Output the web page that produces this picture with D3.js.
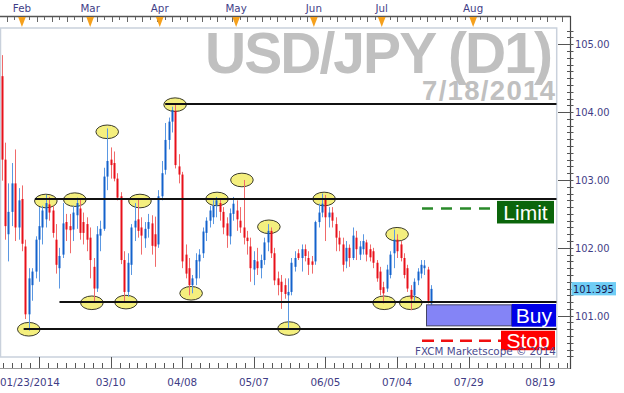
<!DOCTYPE html>
<html><head><meta charset="utf-8">
<script src="https://cdn.jsdelivr.net/npm/d3@7/dist/d3.min.js"></script>
<style>
html,body{margin:0;padding:0;background:#fff;}
svg{display:block;}
</style></head><body>
<svg id="c" width="624" height="393"></svg>
<script>
// ---------- data ----------
const dates = ["01/23","01/24","01/27","01/28","01/29","01/30","01/31","02/03","02/04","02/05","02/06","02/07","02/10","02/11","02/12","02/13","02/14","02/17","02/18","02/19","02/20","02/21","02/24","02/25","02/26","02/27","02/28","03/03","03/04","03/05","03/06","03/07","03/10","03/11","03/12","03/13","03/14","03/17","03/18","03/19","03/20","03/21","03/24","03/25","03/26","03/27","03/28","03/31","04/01","04/02","04/03","04/04","04/07","04/08","04/09","04/10","04/11","04/14","04/15","04/16","04/17","04/18","04/21","04/22","04/23","04/24","04/25","04/28","04/29","04/30","05/01","05/02","05/05","05/06","05/07","05/08","05/09","05/12","05/13","05/14","05/15","05/16","05/19","05/20","05/21","05/22","05/23","05/26","05/27","05/28","05/29","05/30","06/02","06/03","06/04","06/05","06/06","06/09","06/10","06/11","06/12","06/13","06/16","06/17","06/18","06/19","06/20","06/23","06/24","06/25","06/26","06/27","06/30","07/01","07/02","07/03","07/04","07/07","07/08","07/09","07/10","07/11","07/14","07/15","07/16","07/17","07/18"];
const open  = [104.53,103.30,102.20,102.53,102.95,102.30,102.72,102.02,101.02,101.45,101.65,102.12,102.30,102.42,102.64,102.55,102.12,101.70,101.90,102.38,102.32,102.27,102.48,102.58,102.38,102.35,102.15,101.72,101.40,102.18,102.28,103.05,103.30,103.25,103.02,102.76,101.82,101.35,101.75,102.30,102.42,102.30,102.14,102.28,102.36,102.20,102.05,102.76,103.15,103.59,103.86,104.02,103.20,103.08,101.90,101.70,101.45,101.55,101.80,101.92,102.22,102.40,102.45,102.62,102.66,102.53,102.36,102.17,102.50,102.55,102.40,102.30,102.15,102.02,101.68,101.80,101.70,101.82,102.08,102.25,101.92,101.55,101.50,101.45,101.30,101.35,101.72,101.92,101.85,101.98,101.85,101.80,101.80,102.38,102.52,102.72,102.45,102.52,102.35,102.15,102.05,101.80,102.00,101.85,102.15,101.90,101.98,102.08,101.98,101.95,101.78,101.65,101.42,101.40,101.60,101.92,102.12,102.05,101.85,101.70,101.38,101.30,101.52,101.62,101.70,101.68,101.18];
const high  = [104.84,103.55,102.95,103.25,103.45,102.88,102.92,102.12,101.70,101.70,102.17,102.60,102.62,102.78,102.75,102.62,102.35,102.00,102.66,102.50,102.50,102.62,102.74,102.71,102.52,102.45,102.30,101.85,102.32,102.40,103.18,103.76,103.48,103.42,103.10,102.82,101.95,101.92,102.35,102.66,102.72,102.45,102.38,102.50,102.48,102.46,102.85,103.28,103.84,103.92,104.08,104.13,103.38,103.12,102.05,101.85,101.60,101.92,101.98,102.30,102.45,102.62,102.70,102.75,102.72,102.60,102.45,102.58,102.75,102.70,102.60,103.00,102.25,102.15,101.95,102.00,101.90,102.15,102.35,102.30,102.00,101.65,101.60,101.55,101.55,101.85,101.95,101.98,102.05,102.05,101.95,101.88,102.40,102.65,102.80,102.78,102.60,102.60,102.45,102.25,102.15,102.10,102.05,102.30,102.25,102.10,102.20,102.12,102.05,102.00,101.82,101.72,101.50,101.75,101.95,102.27,102.20,102.10,101.92,101.75,101.45,101.55,101.70,101.82,101.82,101.72,101.45];
const low   = [102.99,102.12,101.80,102.32,102.10,102.12,101.95,100.95,100.78,101.22,101.55,101.50,102.05,102.30,102.40,102.15,101.62,101.40,101.85,102.10,101.92,102.10,102.28,102.12,102.05,101.95,101.55,101.20,101.35,101.95,102.25,102.85,103.02,102.98,102.70,101.76,101.20,101.28,101.60,102.10,102.15,101.90,102.00,102.15,101.90,101.72,102.00,102.70,103.08,103.45,103.70,103.17,102.95,101.70,101.55,101.30,101.33,101.45,101.55,101.85,102.10,102.30,102.35,102.45,102.40,102.20,102.00,102.05,102.40,102.25,102.22,102.05,101.90,101.50,101.45,101.60,101.55,101.75,101.95,101.85,101.45,101.30,101.10,101.25,100.82,101.30,101.65,101.82,101.65,101.80,101.60,101.62,101.75,102.30,102.45,102.10,102.30,102.30,101.95,101.95,101.65,101.70,101.72,101.82,101.82,101.82,101.90,101.80,101.80,101.70,101.50,101.30,101.18,101.35,101.55,101.70,101.85,101.80,101.55,101.35,101.08,101.22,101.45,101.55,101.60,101.18,101.08];
const close = [103.30,102.32,102.53,102.95,102.30,102.70,102.06,101.02,101.55,101.65,102.12,102.32,102.55,102.66,102.52,102.22,101.75,101.88,102.36,102.27,102.26,102.52,102.66,102.22,102.22,102.12,101.82,101.40,102.20,102.28,103.05,103.28,103.22,103.02,102.74,101.82,101.35,101.78,102.30,102.40,102.25,102.18,102.28,102.38,102.03,102.02,102.76,103.10,103.59,103.86,104.03,103.22,103.08,101.80,101.62,101.45,101.55,101.82,101.90,102.24,102.40,102.55,102.62,102.70,102.53,102.30,102.18,102.51,102.65,102.42,102.30,102.15,102.10,101.70,101.82,101.70,101.82,102.08,102.25,101.92,101.52,101.45,101.35,101.32,101.35,101.78,101.85,101.85,101.98,101.88,101.75,101.75,102.38,102.52,102.65,102.45,102.52,102.40,102.15,102.05,101.75,102.00,101.85,102.18,101.98,102.02,102.10,101.90,101.86,101.78,101.55,101.38,101.33,101.68,101.90,102.12,101.95,101.85,101.60,101.40,101.25,101.50,101.65,101.75,101.74,101.22,101.395];

const lastPrice = 101.395;
const priceTicks = [101, 102, 103, 104, 105];
const axisBars = [11, 32, 53, 74, 95, 116, 137, 158];
const axisLabels = ["01/23/2014", "03/10", "04/08", "05/07", "06/05", "07/04", "07/29", "08/19"];
const monthNames = ["Feb", "Mar", "Apr", "May", "Jun", "Jul", "Aug"];
const monthBars = [6, 26, 46.4, 68.8, 91.6, 111.5, 138.3];
const levelPrices = [104.12, 102.72, 101.20, 100.81];
const levelStartBars = [48, 9.8, 17, 6.5];
const circleBars = [8, 13, 21.5, 26.5, 31, 36.5, 40.6, 50.9, 55.6, 63.2, 70.5, 78.4, 84.3, 94.6, 112.2, 116, 120];
const circlePrices = [100.80, 102.69, 102.71, 101.19, 103.71, 101.20, 102.69, 104.11, 101.33, 102.72, 103.00, 102.31, 100.81, 102.72, 101.19, 102.20, 101.19];
const limitPrice = 102.58, stopPrice = 100.63;
const buyTop = 101.16, buyBottom = 100.85;
const orderStartBar = 123.3, buyStartBar = 124.6;
const titleText = "USD/JPY (D1)", dateText = "7/18/2014";
const watermark = "FXCM Marketscope \u00A9 2014";

// ---------- layout ----------
const svg = d3.select("#c");
const plotL = 0, plotR = 556.7, plotT = 28, plotB = 357;
const x = d3.scaleLinear().domain([-0.44, 162.8]).range([plotL, plotR]);
const y = d3.scaleLinear().domain([100.391, 105.240]).range([plotB, plotT]);
const axisX = 570.5;
const txtCol = "#3f3d86";

// frame
svg.append("rect").attr("x", 0.5).attr("y", plotT).attr("width", plotR - 0.5).attr("height", plotB - plotT)
  .attr("fill", "none").attr("stroke", "#c9d1dc").attr("stroke-width", 1.5);

// title
svg.append("text").attr("x", 205).attr("y", 73.3).attr("textLength", 348).attr("lengthAdjust", "spacing")
  .attr("font-family", "Liberation Sans, Arial, sans-serif").attr("font-weight", "bold").attr("font-size", 57)
  .attr("fill", "#c0c0c0").text(titleText);
svg.append("text").attr("x", 422).attr("y", 100).attr("textLength", 133).attr("lengthAdjust", "spacing")
  .attr("font-family", "Liberation Sans, Arial, sans-serif").attr("font-weight", "bold").attr("font-size", 27.5)
  .attr("fill", "#c0c0c0").text(dateText);

const clip = svg.append("defs").append("clipPath").attr("id", "pc");
clip.append("rect").attr("x", plotL).attr("y", plotT).attr("width", plotR - plotL).attr("height", plotB - plotT);
const plot = svg.append("g").attr("clip-path", "url(#pc)");

// ellipses
plot.selectAll("ellipse.c").data(d3.range(circleBars.length)).join("ellipse")
  .attr("cx", i => x(circleBars[i])).attr("cy", i => y(circlePrices[i]))
  .attr("rx", 11.3).attr("ry", 6.8)
  .attr("fill", "#f4ef7e").attr("stroke", "#3a3a2a").attr("stroke-width", 1);

// candles
const bars = d3.range(dates.length).map(i => ({i, o: open[i], h: high[i], l: low[i], c: close[i]}));
const cg = plot.append("g");
cg.selectAll("line.w").data(bars).join("line")
  .attr("x1", d => Math.round(x(d.i)) + 0.5).attr("x2", d => Math.round(x(d.i)) + 0.5)
  .attr("y1", d => y(d.h)).attr("y2", d => y(d.l))
  .attr("stroke", d => d.c >= d.o ? "#5b98e2" : "#f06a6a").attr("stroke-width", 1);
cg.selectAll("rect.b").data(bars).join("rect")
  .attr("x", d => Math.round(x(d.i)) - 0.5).attr("width", 2)
  .attr("y", d => y(Math.max(d.o, d.c)))
  .attr("height", d => Math.max(1, Math.abs(y(d.o) - y(d.c))))
  .attr("fill", d => d.c >= d.o ? "#1462cc" : "#e8101a");

// horizontal levels
plot.selectAll("line.lv").data(d3.range(levelPrices.length)).join("line")
  .attr("x1", i => x(levelStartBars[i])).attr("x2", plotR)
  .attr("y1", i => Math.round(y(levelPrices[i]))).attr("y2", i => Math.round(y(levelPrices[i])))
  .attr("stroke", "#111").attr("stroke-width", 2);

// limit / stop dashed
const lbx1 = 497, lbx2 = 554;
plot.append("line").attr("x1", x(orderStartBar)).attr("x2", lbx1).attr("y1", y(limitPrice)).attr("y2", y(limitPrice))
  .attr("stroke", "#2a8a2a").attr("stroke-width", 2.5).attr("stroke-dasharray", "11,8");
plot.append("line").attr("x1", x(orderStartBar)).attr("x2", 501).attr("y1", y(stopPrice)).attr("y2", y(stopPrice))
  .attr("stroke", "#f01010").attr("stroke-width", 2.5).attr("stroke-dasharray", "12,7");

// buy zone
plot.append("rect").attr("x", Math.round(x(buyStartBar)) + 0.5).attr("y", y(buyTop))
  .attr("width", 511.7 - Math.round(x(buyStartBar)) - 0.5).attr("height", y(buyBottom) - y(buyTop))
  .attr("fill", "#8484f6").attr("stroke", "#444466").attr("stroke-width", 1);

// labels boxes
function box(x1, x2, yc, h, fill, label) {
  svg.append("rect").attr("x", x1).attr("y", yc - h / 2).attr("width", x2 - x1).attr("height", h).attr("fill", fill);
  svg.append("text").attr("x", (x1 + x2) / 2).attr("y", yc + 7.5).attr("text-anchor", "middle")
    .attr("font-family", "Liberation Sans, Arial, sans-serif").attr("font-size", 21).attr("fill", "#fff").text(label);
}
box(lbx1, lbx2, y(limitPrice) + 3.7, 22.6, "#0b650b", "Limit");
box(511.7, 556, (y(buyTop) + y(buyBottom)) / 2, 22.7, "#0000e8", "Buy");
box(501, 555, y(stopPrice) - 0.3, 19.5, "#ff0000", "Stop");

// watermark
svg.append("text").attr("x", 415).attr("y", 354.5).attr("font-family", "DejaVu Sans, Verdana, sans-serif")
  .attr("font-size", 10.35).attr("fill", "#4a4a8e").text(watermark);

// ---------- top axis ----------
svg.append("line").attr("x1", 0).attr("x2", axisX).attr("y1", 16.5).attr("y2", 16.5).attr("stroke", "#555").attr("stroke-width", 1.5);
const topTicks = d3.range(-2, 75).map(k => monthBars[0] + k * 2.2).filter(b => x(b) >= 0 && x(b) <= plotR + 8);
svg.selectAll("line.tt").data(topTicks).join("line")
  .attr("x1", b => Math.round(x(b)) + 0.5).attr("x2", b => Math.round(x(b)) + 0.5)
  .attr("y1", 17).attr("y2", (b, k) => k % 2 ? 20 : 22).attr("stroke", "#666").attr("stroke-width", 1);
svg.selectAll("path.tri").data(monthBars).join("path")
  .attr("d", b => { const cx = x(b); return `M${cx - 3.8},17 L${cx + 3.8},17 L${cx},27 Z`; })
  .attr("fill", "#f5a01c");
svg.selectAll("text.mo").data(monthNames).join("text")
  .attr("x", (d, i) => x(monthBars[i])).attr("y", 12).attr("text-anchor", "middle")
  .attr("font-family", "DejaVu Sans, Verdana, sans-serif").attr("font-size", 10.3).attr("fill", txtCol).text(d => d);

// ---------- bottom axis ----------
svg.append("line").attr("x1", 0).attr("x2", axisX).attr("y1", 368.5).attr("y2", 368.5).attr("stroke", "#9a9a9a").attr("stroke-width", 1);
const step = 21 / 8;
const minorBars = d3.range(-5, 70).map(k => axisBars[0] + k * step).filter(b => x(b) >= -0.5 && x(b) <= axisX - 2);
svg.selectAll("line.bt").data(minorBars).join("line")
  .attr("x1", b => Math.round(x(b)) + 0.5).attr("x2", b => Math.round(x(b)) + 0.5)
  .attr("y1", (b, k) => Math.abs((b - axisBars[0]) / 21 - Math.round((b - axisBars[0]) / 21)) < 0.01 ? 357 : 363)
  .attr("y2", 368).attr("stroke", "#555").attr("stroke-width", 1);
svg.selectAll("text.bl").data(axisLabels).join("text")
  .attr("x", (d, i) => i === 0 ? 0 : x(axisBars[i])).attr("y", 386)
  .attr("text-anchor", (d, i) => i === 0 ? "start" : "middle")
  .attr("font-family", "DejaVu Sans, Verdana, sans-serif").attr("font-size", 10.4).attr("fill", txtCol).text(d => d);

// ---------- right axis ----------
svg.append("line").attr("x1", axisX).attr("x2", axisX).attr("y1", 16).attr("y2", 369).attr("stroke", "#444").attr("stroke-width", 1.2);
const minorP = d3.range(1004, 1053).map(v => v / 10);
svg.selectAll("line.rt").data(minorP).join("line")
  .attr("x1", p => Math.abs(p - Math.round(p)) < 0.001 ? 558 : 567).attr("x2", 573.5)
  .attr("y1", p => Math.round(y(p)) + 0.5).attr("y2", p => Math.round(y(p)) + 0.5)
  .attr("stroke", "#555").attr("stroke-width", 1);
svg.selectAll("text.rl").data(priceTicks).join("text")
  .attr("x", 575).attr("y", p => y(p) + 4).attr("font-family", "DejaVu Sans, Verdana, sans-serif")
  .attr("font-size", 9.9).attr("fill", txtCol).text(p => d3.format(".2f")(p));
svg.append("rect").attr("x", 571.5).attr("y", y(lastPrice) - 6.8).attr("width", 44.5).attr("height", 13.3).attr("fill", "#6fcdf5");
svg.append("text").attr("x", 573).attr("y", y(lastPrice) + 3.8).attr("font-family", "DejaVu Sans, Verdana, sans-serif")
  .attr("font-size", 9.9).attr("fill", "#1a1a50").text(d3.format(".3f")(lastPrice));
</script>
</body></html>
